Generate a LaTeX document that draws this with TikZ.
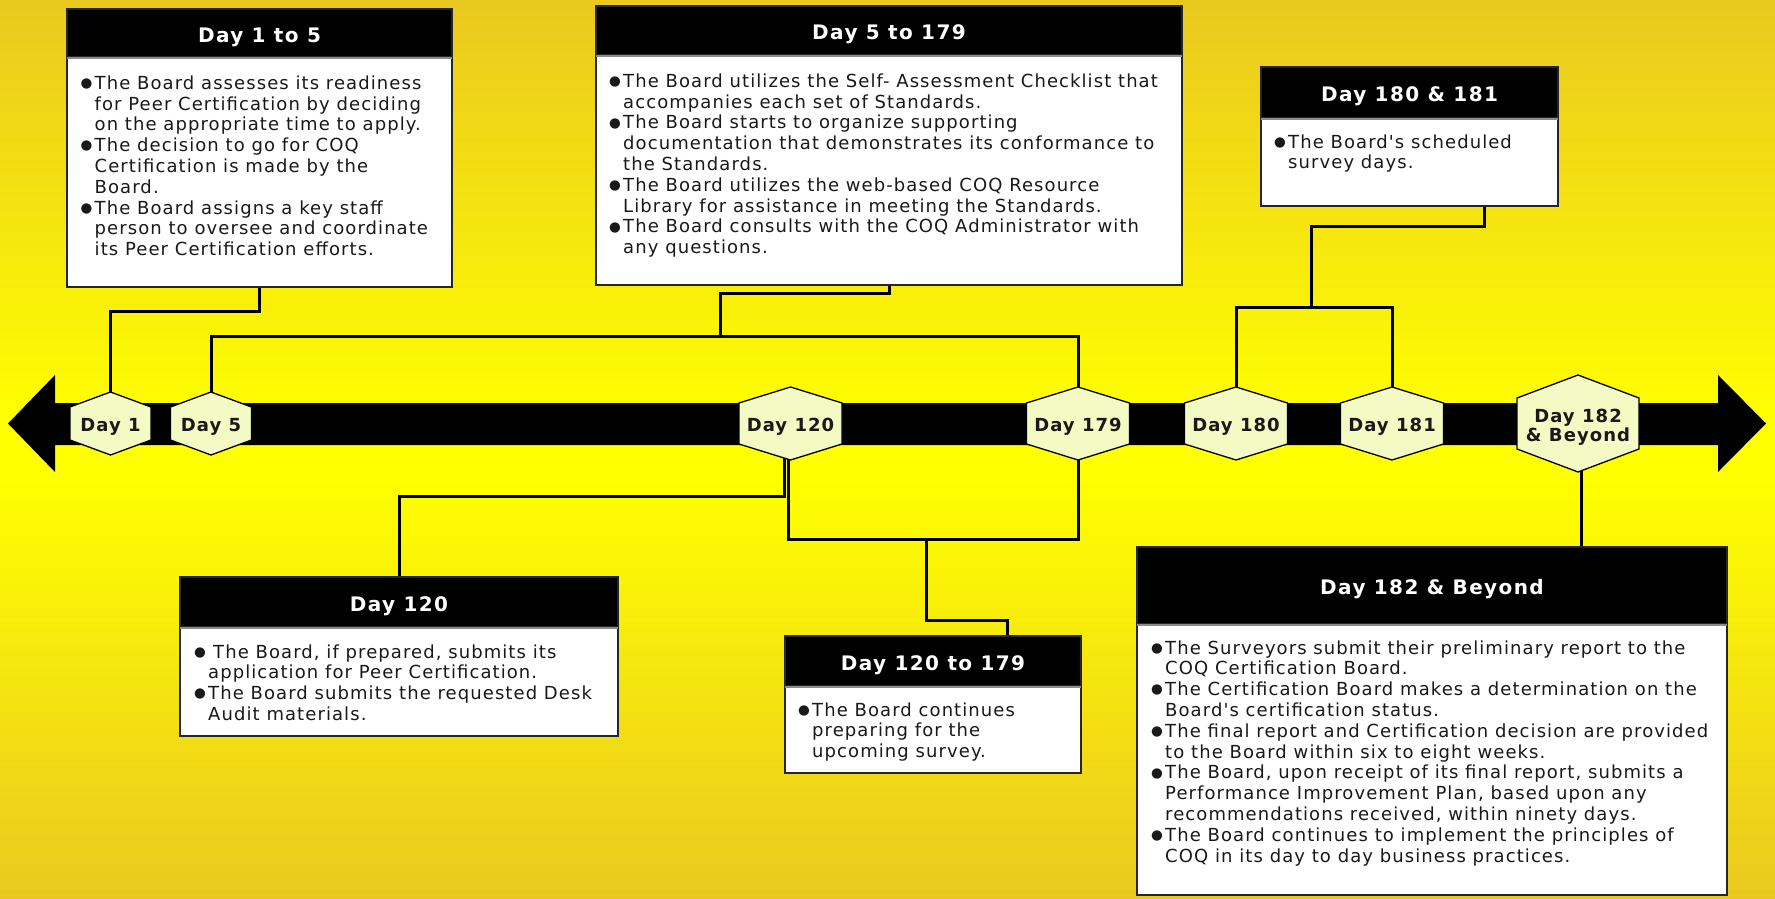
\documentclass[tikz,border=0pt]{standalone}
\usepackage{fontspec}
\setmainfont{DejaVu Sans}
\newfontfamily\bodyfont[LetterSpace=6]{DejaVu Sans}
\newfontfamily\headfont[LetterSpace=7]{DejaVu Sans}
\newfontfamily\lblfont[LetterSpace=6]{DejaVu Sans}
\newfontfamily\bulfont{DejaVu Sans}
\usetikzlibrary{calc}
\pgfdeclarelayer{bg}
\pgfdeclarelayer{behind}
\pgfsetlayers{bg,behind,main}
\definecolor{gold}{RGB}{234,200,32}
\definecolor{yel}{RGB}{255,255,0}
\definecolor{hexfill}{RGB}{243,250,196}
\newcommand\bul{\makebox[14pt][l]{\raisebox{1.8pt}{\bulfont\fontsize{13.5}{13.5}\selectfont ●}}}
\newcommand\ind{\hspace*{14pt}}
\newcommand\hexa[6]{% name, x, y, w, h, s
  \path[hexshape] (#2,#3-#5/2) -- (#2+#4/2,#3-#5/2+#6) -- (#2+#4/2,#3+#5/2-#6) -- (#2,#3+#5/2) -- (#2-#4/2,#3+#5/2-#6) -- (#2-#4/2,#3-#5/2+#6) -- cycle;
  \node[hexnode, minimum width=#4, minimum height=#5] (#1) at (#2,#3) {};}
\newcommand\tbox[7]{% name, x, y, w, h, hh, title
  \node[boxfr, anchor=north west, minimum width=#4, minimum height=#5] (#1) at (#2,#3) {};
  \node[hdrbox, anchor=north west, minimum width=#4, minimum height=#6] (#1h) at (#2,#3) {};
  \draw[sep] ([yshift=-0.8pt]#1h.south west) -- ([yshift=-0.8pt]#1h.south east);
  \node[hdrtxt] (#1t) at ($(#1h.center)+(0,9.2)$) {#7};}
\begin{document}
\begin{tikzpicture}[x=1pt,y=-1pt,
  conn/.style={line width=3pt,draw=black},
  hexshape/.style={fill=hexfill,draw=black,line width=1.3pt},
  hexnode/.style={inner sep=0pt,outer sep=0pt,draw=none},
  hexlbl/.style={anchor=base,inner sep=0pt,text=black!90,font=\lblfont\bfseries\fontsize{18}{19}\selectfont},
  boxfr/.style={fill=white,draw=black!85,line width=1.6pt,inner sep=0pt,outer sep=0pt},
  hdrbox/.style={fill=black,draw=black!85,line width=1.6pt,inner sep=0pt,outer sep=0pt},
  sep/.style={draw=black!45,line width=1.6pt},
  hdrtxt/.style={anchor=base,inner sep=0pt,text=white,font=\headfont\bfseries\fontsize{20}{22}\selectfont},
  body/.style={anchor=base west,inner sep=0pt,text=black!90,font=\bodyfont\fontsize{18}{20.8}\selectfont}]
\useasboundingbox (0,0) rectangle (1775,899);
\begin{pgfonlayer}{bg}
  \shade[top color=gold, bottom color=yel] (0,0) rectangle (1775,421);
  \fill[yel] (0,420) rectangle (1775,481);
  \shade[top color=yel, bottom color=gold] (0,480) rectangle (1775,899);
\end{pgfonlayer}

% timeline band
\fill[black] (8,423.5) -- (55,375) -- (55,403) -- (1718,403) -- (1718,375) -- (1766,423.5)
  -- (1718,472) -- (1718,445) -- (55,445) -- (55,472) -- cycle;

% hexagons
\hexa{d1}{110.5}{423.5}{81}{63}{15}
\hexa{d5}{211}{423.5}{81}{63}{15}
\hexa{d120}{790.5}{423.5}{103}{73}{16}
\hexa{d179}{1078}{423.5}{103}{73}{16}
\hexa{d180}{1236}{423.5}{103}{73}{16}
\hexa{d181}{1392}{423.5}{103}{73}{16}
\hexa{d182}{1578}{423.5}{122}{97}{23}
\node[hexlbl] (l1) at (110.5,431) {Day 1};
\node[hexlbl] (l5) at (211,431) {Day 5};
\node[hexlbl] (l120) at (790.5,431) {Day 120};
\node[hexlbl] (l179) at (1078,431) {Day 179};
\node[hexlbl] (l180) at (1236,431) {Day 180};
\node[hexlbl] (l181) at (1392,431) {Day 181};
\node[hexlbl] (l182a) at (1578,422.7) {Day 182};
\node[hexlbl] (l182b) at (1578,441.7) {\& Beyond};

% boxes
\tbox{A}{67}{9}{385}{278}{48}{Day 1 to 5}
\tbox{B}{596}{6}{586}{279}{49}{Day 5 to 179}
\tbox{C}{1261}{67}{297}{139}{51}{Day 180 \& 181}
\tbox{D}{180}{577}{438}{159}{50}{Day 120}
\tbox{E}{785}{636}{296}{137}{50}{Day 120 to 179}
\tbox{F}{1137}{547}{590}{348}{77}{Day 182 \& Beyond}

\node[body] (Ab) at (80.5,89.3) {\parbox[t]{600pt}{%
\bul The Board assesses its readiness\\
\ind for Peer Certification by deciding\\
\ind on the appropriate time to apply.\\
\bul The decision to go for COQ\\
\ind Certification is made by the\\
\ind Board.\\
\bul The Board assigns a key staff\\
\ind person to oversee and coordinate\\
\ind its Peer Certification efforts.}};

\node[body] (Bb) at (609,87.3) {\parbox[t]{600pt}{%
\bul The Board utilizes the Self- Assessment Checklist that\\
\ind accompanies each set of Standards.\\
\bul The Board starts to organize supporting\\
\ind documentation that demonstrates its conformance to\\
\ind the Standards.\\
\bul The Board utilizes the web-based COQ Resource\\
\ind Library for assistance in meeting the Standards.\\
\bul The Board consults with the COQ Administrator with\\
\ind any questions.}};

\node[body] (Cb) at (1274,148) {\parbox[t]{600pt}{%
\bul The Board's scheduled\\
\ind survey days.}};

\node[body] (Db) at (194,658) {\parbox[t]{600pt}{%
\bul\hspace{5pt}The Board, if prepared, submits its\\
\ind application for Peer Certification.\\
\bul The Board submits the requested Desk\\
\ind Audit materials.}};

\node[body] (Eb) at (798,716) {\parbox[t]{600pt}{%
\bul The Board continues\\
\ind preparing for the\\
\ind upcoming survey.}};

\node[body] (Fb) at (1151,654) {\parbox[t]{600pt}{%
\bul The Surveyors submit their preliminary report to the\\
\ind COQ Certification Board.\\
\bul The Certification Board makes a determination on the\\
\ind Board's certification status.\\
\bul The final report and Certification decision are provided\\
\ind to the Board within six to eight weeks.\\
\bul The Board, upon receipt of its final report, submits a\\
\ind Performance Improvement Plan, based upon any\\
\ind recommendations received, within ninety days.\\
\bul The Board continues to implement the principles of\\
\ind COQ in its day to day business practices.}};

% connectors
\coordinate (bj) at (720,336);
\coordinate (cj) at (1311,307);
\coordinate (dj) at (784,496);
\coordinate (ej) at (926,539);
\begin{pgfonlayer}{behind}
\draw[conn] (A.south) -- ++(0,24) -| (d1.center);
\draw[conn] (B.south) -- ++(0,8) -| (bj);
\draw[conn] (d5.center) |- (bj) -| (d179.center);
\draw[conn] ([xshift=74.5pt]C.south) -- ++(0,20) -| (cj);
\draw[conn] (d180.center) |- (cj) -| (d181.center);
\draw[conn] (d120.center -| dj) -- (dj) -| (D.north);
\draw[conn] ([xshift=-2.5pt]d120.center) |- (ej) -| (d179.center);
\draw[conn] (ej) -- ++(0,81) -| ([xshift=74pt]E.north);
\draw[conn] ([xshift=149pt]F.north) -- ([xshift=149pt]F.north |- d182.center);
\end{pgfonlayer}
\end{tikzpicture}
\end{document}
